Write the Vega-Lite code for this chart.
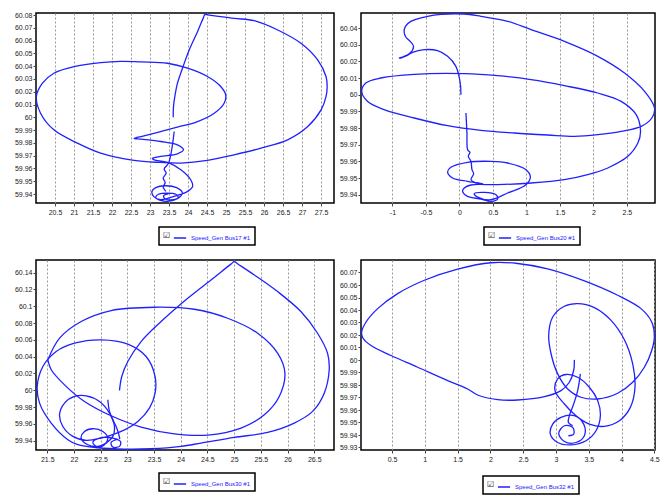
{
"$schema": "https://vega.github.io/schema/vega-lite/v6.json",
"padding": {"left": 13, "top": 10, "right": 5, "bottom": 5},
"background": "white",
"bounds": "flush",
"columns": 2,
"spacing": {"row": 57, "column": 27},
"resolve": {"scale": {"color": "independent"}, "legend": {"color": "independent"}},
"datasets": {
"p1": [
{"x":23.61,"y":60.0,"o":1,"s":"a"},{"x":23.617,"y":60.0084,"o":2,"s":"a"},{"x":23.652,"y":60.0162,"o":3,"s":"a"},{"x":23.722,"y":60.0267,"o":4,"s":"a"},{"x":23.854,"y":60.0384,"o":5,"s":"a"},{"x":24.03,"y":60.0527,"o":6,"s":"a"},{"x":24.249,"y":60.067,"o":7,"s":"a"},{"x":24.40,"y":60.0776,"o":7.5,"s":"a"},{"x":24.442,"y":60.0803,"o":8,"s":"a"},{"x":24.55,"y":60.0800,"o":8.5,"s":"a"},{"x":25.21,"y":60.0774,"o":9,"s":"a"},{"x":25.74,"y":60.0756,"o":10,"s":"a"},{"x":26.36,"y":60.0683,"o":11,"s":"a"},{"x":26.97,"y":60.0579,"o":12,"s":"a"},{"x":27.41,"y":60.0449,"o":13,"s":"a"},{"x":27.63,"y":60.0319,"o":14,"s":"a"},{"x":27.66,"y":60.024,"o":15,"s":"a"},{"x":27.63,"y":60.0162,"o":16,"s":"a"},{"x":27.5,"y":60.0058,"o":17,"s":"a"},{"x":27.15,"y":59.9928,"o":18,"s":"a"},{"x":26.62,"y":59.9824,"o":19,"s":"a"},{"x":25.92,"y":59.9759,"o":20,"s":"a"},{"x":25.21,"y":59.9707,"o":21,"s":"a"},{"x":24.51,"y":59.9663,"o":22,"s":"a"},{"x":23.81,"y":59.9642,"o":23,"s":"a"},{"x":23.28,"y":59.9647,"o":24,"s":"a"},{"x":22.58,"y":59.9663,"o":25,"s":"a"},{"x":21.7,"y":59.972,"o":26,"s":"a"},{"x":21.09,"y":59.9798,"o":27,"s":"a"},{"x":20.47,"y":59.9902,"o":28,"s":"a"},{"x":20.12,"y":60.0032,"o":29,"s":"a"},{"x":20.01,"y":60.0162,"o":30,"s":"a"},{"x":20.17,"y":60.0267,"o":31,"s":"a"},{"x":20.47,"y":60.0345,"o":32,"s":"a"},{"x":21.0,"y":60.0397,"o":33,"s":"a"},{"x":21.7,"y":60.0428,"o":34,"s":"a"},{"x":22.23,"y":60.0438,"o":35,"s":"a"},{"x":22.76,"y":60.0433,"o":36,"s":"a"},{"x":23.46,"y":60.0423,"o":37,"s":"a"},{"x":23.99,"y":60.0384,"o":38,"s":"a"},{"x":24.51,"y":60.0319,"o":39,"s":"a"},{"x":24.86,"y":60.0241,"o":40,"s":"a"},{"x":24.99,"y":60.0175,"o":41,"s":"a"},{"x":24.95,"y":60.011,"o":42,"s":"a"},{"x":24.69,"y":60.0032,"o":43,"s":"a"},{"x":24.25,"y":59.9967,"o":44,"s":"a"},{"x":23.72,"y":59.9923,"o":45,"s":"a"},{"x":23.28,"y":59.9889,"o":46,"s":"a"},{"x":22.84,"y":59.9855,"o":47,"s":"a"},{"x":22.58,"y":59.9835,"o":48,"s":"a"},{"x":22.76,"y":59.9829,"o":49,"s":"a"},{"x":23.28,"y":59.9811,"o":50,"s":"a"},{"x":23.72,"y":59.9785,"o":51,"s":"a"},{"x":23.88,"y":59.9746,"o":52,"s":"a"},{"x":23.72,"y":59.9715,"o":53,"s":"a"},{"x":23.28,"y":59.9694,"o":54,"s":"a"},{"x":23.06,"y":59.9678,"o":55,"s":"a"},{"x":23.11,"y":59.9668,"o":56,"s":"a"},{"x":23.46,"y":59.9647,"o":57,"s":"a"},{"x":23.81,"y":59.959,"o":58,"s":"a"},{"x":24.07,"y":59.9512,"o":59,"s":"a"},{"x":24.12,"y":59.946,"o":60,"s":"a"},{"x":23.99,"y":59.9421,"o":61,"s":"a"},{"x":23.63,"y":59.9382,"o":62,"s":"a"},{"x":23.28,"y":59.9356,"o":63,"s":"a"},{"x":23.1,"y":59.938,"o":64,"s":"a"},{"x":23.05,"y":59.942,"o":65,"s":"a"},{"x":23.15,"y":59.945,"o":66,"s":"a"},{"x":23.4,"y":59.9465,"o":67,"s":"a"},{"x":23.7,"y":59.945,"o":68,"s":"a"},{"x":23.85,"y":59.941,"o":69,"s":"a"},{"x":23.75,"y":59.937,"o":70,"s":"a"},{"x":23.5,"y":59.9345,"o":71,"s":"a"},{"x":23.3,"y":59.9348,"o":72,"s":"a"},{"x":23.15,"y":59.9372,"o":73,"s":"a"},{"x":23.22,"y":59.9398,"o":74,"s":"a"},{"x":23.45,"y":59.9408,"o":75,"s":"a"},{"x":23.68,"y":59.9398,"o":76,"s":"a"},{"x":23.74,"y":59.9372,"o":77,"s":"a"},{"x":23.55,"y":59.9355,"o":78,"s":"a"},{"x":23.4,"y":59.9362,"o":79,"s":"a"},{"x":23.36,"y":59.9388,"o":80,"s":"a"},{"x":23.48,"y":59.9402,"o":81,"s":"a"},
{"x":23.636,"y":59.9889,"o":82,"s":"b"},{"x":23.487,"y":59.9642,"o":83,"s":"b"},{"x":23.372,"y":59.9596,"o":84,"s":"b"},{"x":23.425,"y":59.9564,"o":85,"s":"b"},{"x":23.346,"y":59.9525,"o":86,"s":"b"},{"x":23.398,"y":59.9491,"o":87,"s":"b"},{"x":23.346,"y":59.9452,"o":88,"s":"b"},{"x":23.416,"y":59.9421,"o":89,"s":"b"}
],
"p2": [
{"x":0.022,"y":60.0,"o":1,"s":"a"},{"x":0.012,"y":60.007,"o":2,"s":"a"},{"x":-0.053,"y":60.017,"o":3,"s":"a"},{"x":-0.177,"y":60.023,"o":4,"s":"a"},{"x":-0.327,"y":60.0264,"o":5,"s":"a"},{"x":-0.526,"y":60.027,"o":6,"s":"a"},{"x":-0.701,"y":60.0254,"o":7,"s":"a"},{"x":-0.786,"y":60.0234,"o":8,"s":"a"},{"x":-0.875,"y":60.022,"o":9,"s":"a"},{"x":-0.9,"y":60.022,"o":10,"s":"a"},{"x":-0.85,"y":60.0226,"o":11,"s":"a"},{"x":-0.736,"y":60.025,"o":12,"s":"a"},{"x":-0.686,"y":60.029,"o":13,"s":"a"},{"x":-0.736,"y":60.032,"o":14,"s":"a"},{"x":-0.801,"y":60.0346,"o":15,"s":"a"},{"x":-0.826,"y":60.0376,"o":16,"s":"a"},{"x":-0.806,"y":60.041,"o":17,"s":"a"},{"x":-0.726,"y":60.044,"o":18,"s":"a"},{"x":-0.477,"y":60.047,"o":19,"s":"a"},{"x":-0.277,"y":60.0482,"o":20,"s":"a"},{"x":0.072,"y":60.0484,"o":21,"s":"a"},{"x":0.321,"y":60.047,"o":22,"s":"a"},{"x":0.72,"y":60.044,"o":23,"s":"a"},{"x":1.069,"y":60.039,"o":24,"s":"a"},{"x":1.567,"y":60.032,"o":25,"s":"a"},{"x":2.066,"y":60.023,"o":26,"s":"a"},{"x":2.465,"y":60.013,"o":27,"s":"a"},{"x":2.764,"y":60.002,"o":28,"s":"a"},{"x":2.913,"y":59.992,"o":29,"s":"a"},{"x":2.873,"y":59.986,"o":30,"s":"a"},{"x":2.714,"y":59.981,"o":31,"s":"a"},{"x":2.415,"y":59.978,"o":32,"s":"a"},{"x":2.066,"y":59.976,"o":33,"s":"a"},{"x":1.717,"y":59.975,"o":34,"s":"a"},{"x":1.318,"y":59.9758,"o":35,"s":"a"},{"x":0.82,"y":59.977,"o":36,"s":"a"},{"x":0.321,"y":59.9786,"o":37,"s":"a"},{"x":-0.177,"y":59.9814,"o":38,"s":"a"},{"x":-0.676,"y":59.986,"o":39,"s":"a"},{"x":-1.125,"y":59.991,"o":40,"s":"a"},{"x":-1.374,"y":59.996,"o":41,"s":"a"},{"x":-1.459,"y":60.002,"o":42,"s":"a"},{"x":-1.399,"y":60.007,"o":43,"s":"a"},{"x":-1.174,"y":60.01,"o":44,"s":"a"},{"x":-0.676,"y":60.0122,"o":45,"s":"a"},{"x":0.072,"y":60.0126,"o":46,"s":"a"},{"x":0.57,"y":60.0114,"o":47,"s":"a"},{"x":1.069,"y":60.009,"o":48,"s":"a"},{"x":1.567,"y":60.0054,"o":49,"s":"a"},{"x":2.066,"y":60.001,"o":50,"s":"a"},{"x":2.415,"y":59.996,"o":51,"s":"a"},{"x":2.639,"y":59.988,"o":52,"s":"a"},{"x":2.704,"y":59.978,"o":53,"s":"a"},{"x":2.664,"y":59.971,"o":54,"s":"a"},{"x":2.514,"y":59.963,"o":55,"s":"a"},{"x":2.215,"y":59.956,"o":56,"s":"a"},{"x":1.916,"y":59.952,"o":57,"s":"a"},{"x":1.567,"y":59.949,"o":58,"s":"a"},{"x":1.069,"y":59.947,"o":59,"s":"a"},{"x":0.57,"y":59.946,"o":60,"s":"a"},{"x":0.172,"y":59.9458,"o":61,"s":"a"},{"x":0.072,"y":59.944,"o":62,"s":"a"},{"x":0.047,"y":59.942,"o":63,"s":"a"},{"x":0.122,"y":59.939,"o":64,"s":"a"},{"x":0.321,"y":59.9374,"o":65,"s":"a"},{"x":0.471,"y":59.936,"o":66,"s":"a"},{"x":0.57,"y":59.9374,"o":67,"s":"a"},{"x":0.545,"y":59.94,"o":68,"s":"a"},{"x":0.371,"y":59.9414,"o":69,"s":"a"},{"x":0.221,"y":59.9406,"o":70,"s":"a"},{"x":0.271,"y":59.9386,"o":71,"s":"a"},{"x":0.471,"y":59.937,"o":72,"s":"a"},{"x":0.72,"y":59.941,"o":73,"s":"a"},{"x":0.994,"y":59.946,"o":74,"s":"a"},{"x":1.059,"y":59.9506,"o":75,"s":"a"},{"x":0.994,"y":59.955,"o":76,"s":"a"},{"x":0.72,"y":59.959,"o":77,"s":"a"},{"x":0.471,"y":59.96,"o":78,"s":"a"},{"x":0.122,"y":59.9594,"o":79,"s":"a"},{"x":-0.128,"y":59.9564,"o":80,"s":"a"},{"x":-0.177,"y":59.9536,"o":81,"s":"a"},{"x":-0.103,"y":59.95,"o":82,"s":"a"},{"x":0.122,"y":59.948,"o":83,"s":"a"},{"x":0.271,"y":59.947,"o":84,"s":"a"},{"x":0.371,"y":59.946,"o":85,"s":"a"},
{"x":0.097,"y":59.989,"o":86,"s":"b"},{"x":0.112,"y":59.977,"o":87,"s":"b"},{"x":0.122,"y":59.967,"o":88,"s":"b"},{"x":0.157,"y":59.9654,"o":89,"s":"b"},{"x":0.132,"y":59.963,"o":90,"s":"b"},{"x":0.172,"y":59.96,"o":91,"s":"b"},{"x":0.187,"y":59.955,"o":92,"s":"b"},{"x":0.212,"y":59.9526,"o":93,"s":"b"},{"x":0.172,"y":59.949,"o":94,"s":"b"},{"x":0.221,"y":59.9474,"o":95,"s":"b"},{"x":0.346,"y":59.9466,"o":96,"s":"b"}
],
"p3": [
{"x":22.853,"y":59.9998,"o":1,"s":"a"},{"x":22.896,"y":60.0164,"o":2,"s":"a"},{"x":23.009,"y":60.0343,"o":3,"s":"a"},{"x":23.258,"y":60.058,"o":4,"s":"a"},{"x":23.632,"y":60.0818,"o":5,"s":"a"},{"x":24.131,"y":60.1095,"o":6,"s":"a"},{"x":24.567,"y":60.1313,"o":7,"s":"a"},{"x":24.94,"y":60.1501,"o":7.5,"s":"a"},{"x":25.004,"y":60.1531,"o":8,"s":"a"},{"x":25.07,"y":60.1503,"o":8.5,"s":"a"},{"x":25.378,"y":60.1372,"o":9,"s":"a"},{"x":25.814,"y":60.1174,"o":10,"s":"a"},{"x":26.25,"y":60.0937,"o":11,"s":"a"},{"x":26.562,"y":60.0679,"o":12,"s":"a"},{"x":26.749,"y":60.0442,"o":13,"s":"a"},{"x":26.78,"y":60.0244,"o":14,"s":"a"},{"x":26.687,"y":59.9966,"o":15,"s":"a"},{"x":26.469,"y":59.9749,"o":16,"s":"a"},{"x":26.126,"y":59.961,"o":17,"s":"a"},{"x":25.627,"y":59.9499,"o":18,"s":"a"},{"x":25.004,"y":59.944,"o":19,"s":"a"},{"x":24.38,"y":59.9372,"o":20,"s":"a"},{"x":24.006,"y":59.9333,"o":21,"s":"a"},{"x":23.445,"y":59.9305,"o":22,"s":"a"},{"x":22.946,"y":59.9301,"o":23,"s":"a"},{"x":22.448,"y":59.9317,"o":24,"s":"a"},{"x":22.074,"y":59.9353,"o":25,"s":"a"},{"x":21.887,"y":59.9412,"o":26,"s":"a"},{"x":21.575,"y":59.961,"o":27,"s":"a"},{"x":21.357,"y":59.9848,"o":28,"s":"a"},{"x":21.313,"y":60.0046,"o":29,"s":"a"},{"x":21.419,"y":60.0283,"o":30,"s":"a"},{"x":21.668,"y":60.0461,"o":31,"s":"a"},{"x":22.011,"y":60.056,"o":32,"s":"a"},{"x":22.51,"y":60.06,"o":33,"s":"a"},{"x":23.009,"y":60.0549,"o":34,"s":"a"},{"x":23.352,"y":60.0402,"o":35,"s":"a"},{"x":23.52,"y":60.0164,"o":36,"s":"a"},{"x":23.52,"y":59.9966,"o":37,"s":"a"},{"x":23.414,"y":59.9788,"o":38,"s":"a"},{"x":23.196,"y":59.963,"o":39,"s":"a"},{"x":22.884,"y":59.9511,"o":40,"s":"a"},{"x":22.51,"y":59.9432,"o":41,"s":"a"},{"x":22.229,"y":59.9404,"o":42,"s":"a"},{"x":21.98,"y":59.9452,"o":43,"s":"a"},{"x":21.793,"y":59.957,"o":44,"s":"a"},{"x":21.731,"y":59.9709,"o":45,"s":"a"},{"x":21.824,"y":59.9848,"o":46,"s":"a"},{"x":22.011,"y":59.9927,"o":47,"s":"a"},{"x":22.229,"y":59.9935,"o":48,"s":"a"},{"x":22.479,"y":59.9867,"o":49,"s":"a"},{"x":22.666,"y":59.9729,"o":50,"s":"a"},{"x":22.759,"y":59.957,"o":51,"s":"a"},{"x":22.728,"y":59.9452,"o":52,"s":"a"},{"x":22.603,"y":59.9372,"o":53,"s":"a"},{"x":22.448,"y":59.9333,"o":54,"s":"a"},{"x":22.261,"y":59.9353,"o":55,"s":"a"},{"x":22.136,"y":59.9432,"o":56,"s":"a"},{"x":22.198,"y":59.9511,"o":57,"s":"a"},{"x":22.354,"y":59.9543,"o":58,"s":"a"},{"x":22.541,"y":59.9511,"o":59,"s":"a"},{"x":22.635,"y":59.9432,"o":60,"s":"a"},{"x":22.572,"y":59.9353,"o":61,"s":"a"},{"x":22.448,"y":59.9325,"o":62,"s":"a"},{"x":22.354,"y":59.938,"o":63,"s":"a"},{"x":22.479,"y":59.9432,"o":64,"s":"a"},{"x":22.728,"y":59.9432,"o":65,"s":"a"},{"x":22.872,"y":59.9392,"o":66,"s":"a"},{"x":22.853,"y":59.9333,"o":67,"s":"a"},{"x":22.728,"y":59.9325,"o":68,"s":"a"},{"x":22.697,"y":59.938,"o":69,"s":"a"},{"x":22.822,"y":59.942,"o":70,"s":"a"},
{"x":21.512,"y":60.0362,"o":71,"s":"b"},{"x":21.731,"y":60.062,"o":72,"s":"b"},{"x":22.136,"y":60.0818,"o":73,"s":"b"},{"x":22.697,"y":60.0949,"o":74,"s":"b"},{"x":23.507,"y":60.0988,"o":75,"s":"b"},{"x":24.255,"y":60.0964,"o":76,"s":"b"},{"x":24.879,"y":60.0857,"o":77,"s":"b"},{"x":25.44,"y":60.0679,"o":78,"s":"b"},{"x":25.814,"y":60.0442,"o":79,"s":"b"},{"x":25.951,"y":60.0204,"o":80,"s":"b"},{"x":25.845,"y":59.9927,"o":81,"s":"b"},{"x":25.565,"y":59.9709,"o":82,"s":"b"},{"x":25.128,"y":59.9551,"o":83,"s":"b"},{"x":24.505,"y":59.9468,"o":84,"s":"b"},{"x":23.881,"y":59.9483,"o":85,"s":"b"},{"x":23.258,"y":59.9563,"o":86,"s":"b"},{"x":22.697,"y":59.9697,"o":87,"s":"b"},{"x":22.198,"y":59.9867,"o":88,"s":"b"},{"x":21.824,"y":60.0065,"o":89,"s":"b"},{"x":21.575,"y":60.0244,"o":90,"s":"b"},{"x":21.512,"y":60.0362,"o":91,"s":"b"},
{"x":22.635,"y":59.9887,"o":92,"s":"c"},{"x":22.666,"y":59.9749,"o":93,"s":"c"},{"x":22.728,"y":59.965,"o":94,"s":"c"},{"x":22.79,"y":59.957,"o":95,"s":"c"},{"x":22.834,"y":59.9491,"o":96,"s":"c"},{"x":22.859,"y":59.942,"o":97,"s":"c"}
],
"p4": [
{"x":3.28,"y":60.0001,"o":1,"s":"a"},{"x":3.27,"y":59.9916,"o":2,"s":"a"},{"x":3.204,"y":59.9822,"o":3,"s":"a"},{"x":3.077,"y":59.9755,"o":4,"s":"a"},{"x":2.823,"y":59.9707,"o":5,"s":"a"},{"x":2.416,"y":59.968,"o":6,"s":"a"},{"x":2.111,"y":59.9683,"o":7,"s":"a"},{"x":1.806,"y":59.972,"o":8,"s":"a"},{"x":1.654,"y":59.9768,"o":9,"s":"a"},{"x":1.349,"y":59.9835,"o":10,"s":"a"},{"x":0.891,"y":59.9942,"o":11,"s":"a"},{"x":0.485,"y":60.0036,"o":12,"s":"a"},{"x":0.18,"y":60.0116,"o":13,"s":"a"},{"x":0.053,"y":60.0178,"o":14,"s":"a"},{"x":0.037,"y":60.0224,"o":15,"s":"a"},{"x":0.104,"y":60.0304,"o":16,"s":"a"},{"x":0.281,"y":60.0411,"o":17,"s":"a"},{"x":0.586,"y":60.0531,"o":18,"s":"a"},{"x":0.993,"y":60.0638,"o":19,"s":"a"},{"x":1.501,"y":60.0727,"o":20,"s":"a"},{"x":2.01,"y":60.0778,"o":21,"s":"a"},{"x":2.416,"y":60.0772,"o":22,"s":"a"},{"x":2.874,"y":60.0729,"o":23,"s":"a"},{"x":3.433,"y":60.0633,"o":24,"s":"a"},{"x":3.941,"y":60.0518,"o":25,"s":"a"},{"x":4.297,"y":60.0411,"o":26,"s":"a"},{"x":4.46,"y":60.0304,"o":27,"s":"a"},{"x":4.5,"y":60.0183,"o":28,"s":"a"},{"x":4.46,"y":60.0076,"o":29,"s":"a"},{"x":4.348,"y":59.9942,"o":30,"s":"a"},{"x":4.17,"y":59.9822,"o":31,"s":"a"},{"x":3.941,"y":59.9734,"o":32,"s":"a"},{"x":3.636,"y":59.9688,"o":33,"s":"a"},{"x":3.382,"y":59.9702,"o":34,"s":"a"},{"x":3.179,"y":59.9768,"o":35,"s":"a"},{"x":3.026,"y":59.9889,"o":36,"s":"a"},{"x":2.925,"y":60.005,"o":37,"s":"a"},{"x":2.889,"y":60.0197,"o":38,"s":"a"},{"x":2.95,"y":60.0344,"o":39,"s":"a"},{"x":3.128,"y":60.043,"o":40,"s":"a"},{"x":3.331,"y":60.0451,"o":41,"s":"a"},{"x":3.585,"y":60.0419,"o":42,"s":"a"},{"x":3.84,"y":60.0317,"o":43,"s":"a"},{"x":4.043,"y":60.0162,"o":44,"s":"a"},{"x":4.17,"y":59.9969,"o":45,"s":"a"},{"x":4.205,"y":59.9782,"o":46,"s":"a"},{"x":4.134,"y":59.9621,"o":47,"s":"a"},{"x":3.967,"y":59.9514,"o":48,"s":"a"},{"x":3.738,"y":59.9469,"o":49,"s":"a"},{"x":3.509,"y":59.9487,"o":50,"s":"a"},{"x":3.306,"y":59.9554,"o":51,"s":"a"},{"x":3.128,"y":59.9648,"o":52,"s":"a"},{"x":2.986,"y":59.9755,"o":53,"s":"a"},{"x":3.026,"y":59.9849,"o":54,"s":"a"},{"x":3.153,"y":59.9884,"o":55,"s":"a"},{"x":3.331,"y":59.9862,"o":56,"s":"a"},{"x":3.509,"y":59.9782,"o":57,"s":"a"},{"x":3.636,"y":59.9675,"o":58,"s":"a"},{"x":3.677,"y":59.9554,"o":59,"s":"a"},{"x":3.611,"y":59.9434,"o":60,"s":"a"},{"x":3.458,"y":59.9354,"o":61,"s":"a"},{"x":3.23,"y":59.9321,"o":62,"s":"a"},{"x":3.026,"y":59.934,"o":63,"s":"a"},{"x":2.914,"y":59.9407,"o":64,"s":"a"},{"x":2.95,"y":59.9487,"o":65,"s":"a"},{"x":3.077,"y":59.9541,"o":66,"s":"a"},{"x":3.28,"y":59.9554,"o":67,"s":"a"},{"x":3.423,"y":59.9487,"o":68,"s":"a"},{"x":3.433,"y":59.9394,"o":69,"s":"a"},{"x":3.306,"y":59.934,"o":70,"s":"a"},{"x":3.128,"y":59.9348,"o":71,"s":"a"},{"x":3.042,"y":59.9412,"o":72,"s":"a"},{"x":3.128,"y":59.9474,"o":73,"s":"a"},{"x":3.255,"y":59.9461,"o":74,"s":"a"},{"x":3.27,"y":59.9407,"o":75,"s":"a"},{"x":3.189,"y":59.9394,"o":76,"s":"a"},
{"x":3.372,"y":59.9889,"o":77,"s":"b"},{"x":3.331,"y":59.9755,"o":78,"s":"b"},{"x":3.27,"y":59.9648,"o":79,"s":"b"},{"x":3.204,"y":59.9554,"o":80,"s":"b"},{"x":3.189,"y":59.95,"o":81,"s":"b"},{"x":3.255,"y":59.9474,"o":82,"s":"b"}
]
},
"concat": [
{
"width": 298, "height": 190,
"data": {"name": "p1"},
"mark": {"type": "line", "strokeWidth": 1.3, "clip": true, "interpolate": "catmull-rom"},
"encoding": {
"x": {"field": "x", "type": "quantitative", "scale": {"domain": [20.0, 27.84], "nice": false, "zero": false}, "axis": {"values": [20.5,21,21.5,22,22.5,23,23.5,24,24.5,25,25.5,26,26.5,27,27.5], "format": "~g"}},
"y": {"field": "y", "type": "quantitative", "scale": {"domain": [59.933, 60.0816], "nice": false, "zero": false}, "axis": {"values": [59.94,59.95,59.96,59.97,59.98,59.99,60,60.01,60.02,60.03,60.04,60.05,60.06,60.07,60.08], "format": "~g"}},
"order": {"field": "o", "type": "quantitative"},
"detail": {"field": "s"},
"color": {"datum": "Speed_Gen Bus17 #1", "scale": {"range": ["#2020ff"]}, "legend": {"title": "\u2611", "legendX": 123, "legendY": 214}}
}
},
{
"width": 294, "height": 190,
"data": {"name": "p2"},
"mark": {"type": "line", "strokeWidth": 1.3, "clip": true, "interpolate": "catmull-rom"},
"encoding": {
"x": {"field": "x", "type": "quantitative", "scale": {"domain": [-1.47, 2.92], "nice": false, "zero": false}, "axis": {"values": [-1,-0.5,0,0.5,1,1.5,2,2.5], "labelExpr": "replace(format(datum.value, '~g'), '\u2212', '-')"}},
"y": {"field": "y", "type": "quantitative", "scale": {"domain": [59.935, 60.049], "nice": false, "zero": false}, "axis": {"values": [59.94,59.95,59.96,59.97,59.98,59.99,60,60.01,60.02,60.03,60.04], "format": "~g"}},
"order": {"field": "o", "type": "quantitative"},
"detail": {"field": "s"},
"color": {"datum": "Speed_Gen Bus20 #1", "scale": {"range": ["#2020ff"]}, "legend": {"title": "\u2611", "legendX": 123, "legendY": 214}}
}
},
{
"width": 298, "height": 190,
"data": {"name": "p3"},
"mark": {"type": "line", "strokeWidth": 1.3, "clip": true, "interpolate": "catmull-rom"},
"encoding": {
"x": {"field": "x", "type": "quantitative", "scale": {"domain": [21.29, 26.87], "nice": false, "zero": false}, "axis": {"values": [21.5,22,22.5,23,23.5,24,24.5,25,25.5,26,26.5], "format": "~g"}},
"y": {"field": "y", "type": "quantitative", "scale": {"domain": [59.929, 60.155], "nice": false, "zero": false}, "axis": {"values": [59.94,59.96,59.98,60,60.02,60.04,60.06,60.08,60.1,60.12,60.14], "format": "~g"}},
"order": {"field": "o", "type": "quantitative"},
"detail": {"field": "s"},
"color": {"datum": "Speed_Gen Bus30 #1", "scale": {"range": ["#2020ff"]}, "legend": {"title": "\u2611", "legendX": 123, "legendY": 213}}
}
},
{
"width": 294, "height": 190,
"data": {"name": "p4"},
"mark": {"type": "line", "strokeWidth": 1.3, "clip": true, "interpolate": "catmull-rom"},
"encoding": {
"x": {"field": "x", "type": "quantitative", "scale": {"domain": [0.027, 4.51], "nice": false, "zero": false}, "axis": {"values": [0.5,1,1.5,2,2.5,3,3.5,4,4.5], "format": "~g"}},
"y": {"field": "y", "type": "quantitative", "scale": {"domain": [59.928, 60.08], "nice": false, "zero": false}, "axis": {"values": [59.93,59.94,59.95,59.96,59.97,59.98,59.99,60,60.01,60.02,60.03,60.04,60.05,60.06,60.07], "format": "~g"}},
"order": {"field": "o", "type": "quantitative"},
"detail": {"field": "s"},
"color": {"datum": "Speed_Gen Bus32 #1", "scale": {"range": ["#2020ff"]}, "legend": {"title": "\u2611", "legendX": 122, "legendY": 216}}
}
}
],
"config": {
"view": {"stroke": "black", "strokeWidth": 1.5},
"font": "Liberation Sans",
"axis": {"labelFontSize": 7, "labelColor": "#222", "labelFont": "Liberation Sans", "tickColor": "#444", "tickSize": 3, "domain": false, "labelOverlap": false, "labelFlush": false, "title": null},
"axisX": {"grid": true, "gridDash": [2, 2], "gridColor": "#999", "labelPadding": 2},
"axisY": {"grid": false, "labelPadding": 1},
"legend": {"orient": "none", "fillColor": "white", "strokeColor": "black", "strokeWidth": 1.5, "padding": 4, "symbolType": "stroke", "symbolSize": 150, "symbolStrokeWidth": 1.5, "labelFontSize": 6, "labelColor": "#2020ff", "labelFont": "Liberation Sans", "titleOrient": "left", "titleFont": "DejaVu Sans", "titleFontSize": 8, "titleFontWeight": "normal", "titleColor": "#222", "titlePadding": 2}
}
}
